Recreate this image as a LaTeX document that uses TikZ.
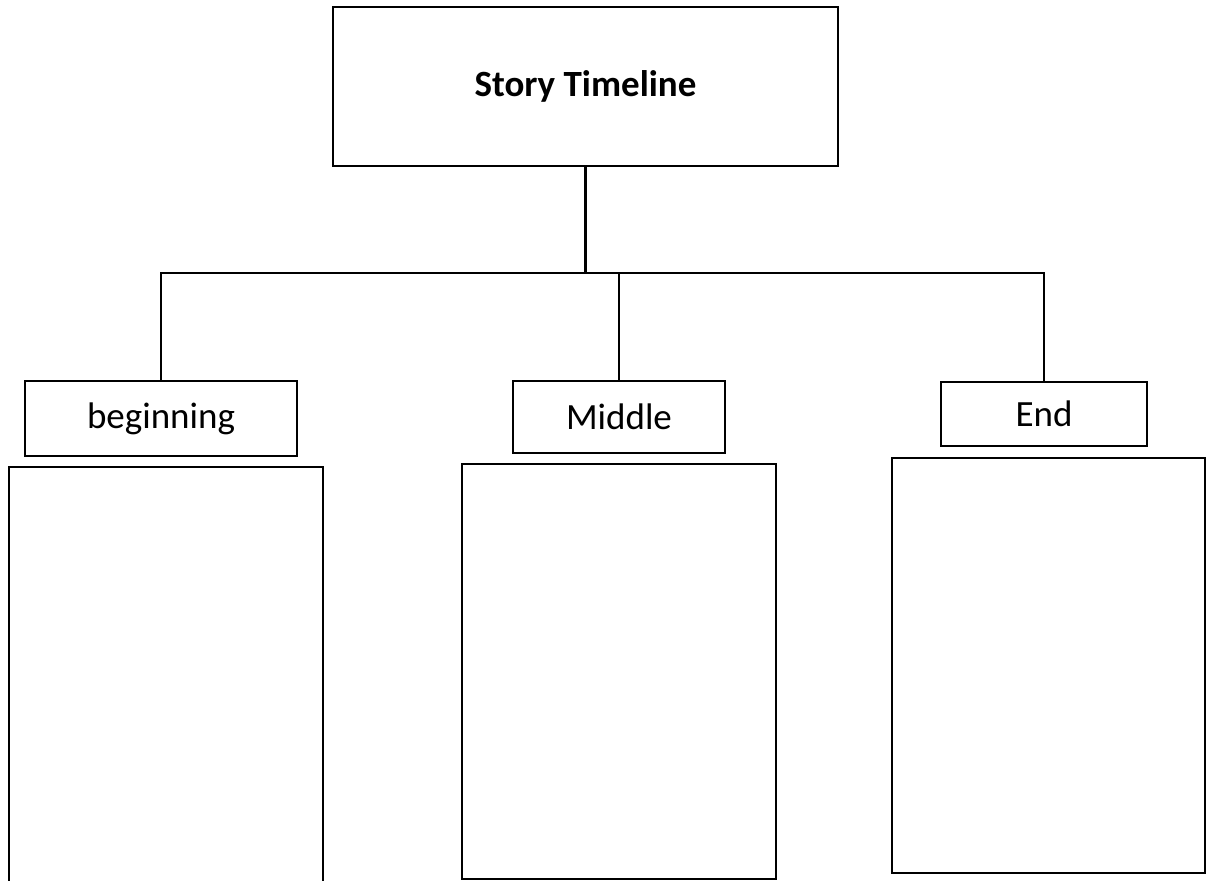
\documentclass[tikz,border=0pt]{standalone}
\usepackage{fontspec}
\setmainfont{Carlito}
\tikzset{every picture/.style={line width=0.75pt}}
\begin{document}
\begin{tikzpicture}[x=0.75pt,y=0.75pt,yscale=-1,xscale=1,
  lbl/.style={draw,line width=2pt,inner sep=0pt,font=\fontsize{27.75}{33}\selectfont},
  panel/.style={draw,line width=2pt,inner sep=0pt},
  wire/.style={line width=1.6pt}]
\clip (0,0) rectangle (1208,881);

%Shape: Rectangle [title]
\node [lbl,font=\fontsize{27.75}{33}\selectfont\bfseries,minimum width=378.75pt,minimum height=119.25pt] (title) at (585.5,86.5) {Story Timeline};

%Shape: Rectangle [labels]
\node [lbl,minimum width=204pt,minimum height=56.25pt] (beg) at (161,418.5) {beginning};
\node [lbl,minimum width=159pt,minimum height=54pt] (mid) at (619,417) {Middle};
\node [lbl,minimum width=154.5pt,minimum height=48pt] (fin) at (1044,414) {End};

%Shape: Rectangle [panels]
\node [panel,minimum width=235.5pt,minimum height=324.75pt] (begpanel) at (166,683.5) {};
\node [panel,minimum width=235.5pt,minimum height=311.25pt] (midpanel) at (619,671.5) {};
\node [panel,minimum width=234.75pt,minimum height=311.25pt] (finpanel) at (1048.5,665.5) {};

%Straight Lines [tree]
\coordinate (hub) at (585.5,273);
\draw [wire] (title.south) -- (hub);
\draw [wire] (hub) -| (beg.north);
\draw [wire] (hub) -| (mid.north);
\draw [wire] (hub) -| (fin.north);

\end{tikzpicture}
\end{document}
